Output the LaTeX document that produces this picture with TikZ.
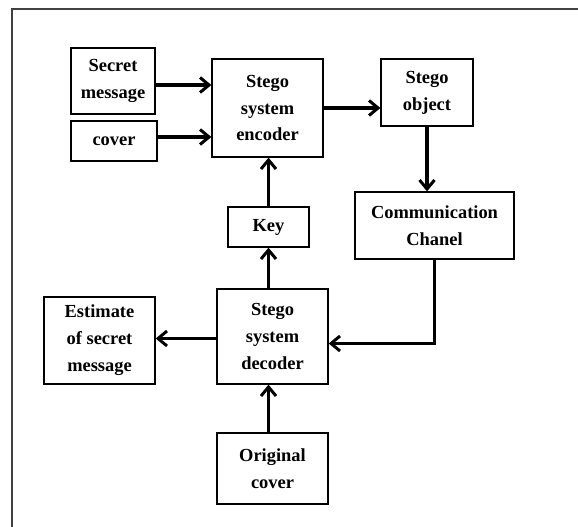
\documentclass[tikz,border=0pt]{standalone}
\usepackage{fontspec}
\setmainfont{Liberation Serif}
\usepackage{tikz}
\usetikzlibrary{arrows.meta}

\begin{document}
\begin{tikzpicture}[x=1bp, y=-1bp,
  blk/.style={draw, line width=1.3bp, align=center, inner sep=0pt,
    font=\fontsize{18.5}{27}\selectfont\bfseries},
  arr/.style={line width=3.2bp, -{Straight Barb[length=9bp, width=15bp, line width=3bp]}}]
\useasboundingbox (0,0) rectangle (578,527);
% outer frame
\draw[line width=1.5bp, black!75] (12,527) -- (12,9) -- (578,9);
% blocks
\node[blk, minimum width=84bp, minimum height=66bp] (secret) at (113,81) {Secret\\message};
\node[blk, minimum width=86bp, minimum height=40bp] (cover) at (114,141) {cover};
\node[blk, minimum width=111bp, minimum height=98bp] (enc) at (267.5,108) {Stego\\system\\encoder};
\node[blk, minimum width=92bp, minimum height=67bp] (obj) at (427,92.5) {Stego\\object};
\node[blk, minimum width=159bp, minimum height=67bp] (chan) at (434.5,225.5) {Communication\\Chanel};
\node[blk, minimum width=81bp, minimum height=40bp] (key) at (268.5,227) {Key};
\node[blk, minimum width=111bp, minimum height=95bp] (dec) at (272.5,336.5) {Stego\\system\\decoder};
\node[blk, minimum width=111bp, minimum height=87bp] (est) at (99.5,340.5) {Estimate\\of secret\\message};
\node[blk, minimum width=111bp, minimum height=71bp] (orig) at (272.5,468.5) {Original\\cover};
% connectors
\draw[arr] ([yshift=-4bp]secret.east) -- ([yshift=-4bp]secret.east -| enc.west);
\draw[arr] ([yshift=4bp]cover.east) -- ([yshift=4bp]cover.east -| enc.west);
\draw[arr] (enc.east) -- (enc.east -| obj.west);
\draw[arr] (obj.south) -- (obj.south |- chan.north);
\draw[arr] (key.north) -- (key.north |- enc.south);
\draw[arr] (key |- dec.north) -- (key.south);
\draw[arr] (chan.south) |- ([yshift=-7bp]dec.east);
\draw[arr] ([yshift=-2bp]dec.west) -- ([yshift=-2bp]dec.west -| est.east);
\draw[arr] (key |- orig.north) -- (key |- dec.south);
\end{tikzpicture}
\end{document}
